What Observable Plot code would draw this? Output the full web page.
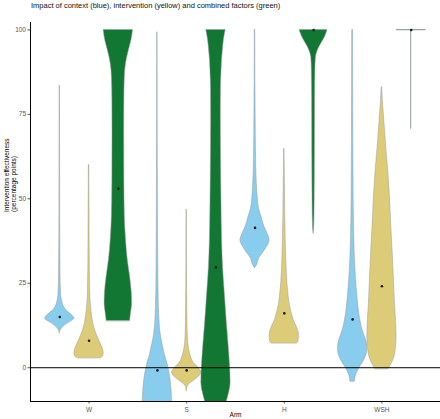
<!DOCTYPE html>
<html>
<head>
<meta charset="utf-8">
<script src="https://cdn.jsdelivr.net/npm/d3@7"></script>
<script src="https://cdn.jsdelivr.net/npm/@observablehq/plot@0.6"></script>
<style>
  html, body { margin: 0; padding: 0; background: white; }
  #wrap { position: relative; width: 440px; height: 419px; }
  #title { position: absolute; left: 31px; top: 0px; font: 7.5px "Liberation Sans", Arial, sans-serif; color: #111; white-space: nowrap; line-height: 11px; }
</style>
</head>
<body>
<div id="wrap"><div id="title">Impact of context (blue), intervention (yellow) and combined factors (green)</div></div>
<script>
// Categories
const arms = ["W", "S", "H", "WSH"];
const factors = ["context", "intervention", "combined"];
const factorColors = ["#88CCEE", "#DDCC77", "#117733"];
const yTicks = [0, 25, 50, 75, 100];

// Medians (percentage points), by arm W, S, H, WSH
const medianContext = [15.0, -0.8, 41.4, 14.3];
const medianIntervention = [8.0, -0.8, 16.1, 24.1];
const medianCombined = [53.0, 29.7, 100, 100];

// Violin profiles: [value, relative density width]
const profileWContext = [[10.2,0],[10.8,0.04],[11.5,0.12],[12.5,0.35],[13.5,0.7],[14.5,1.0],[15.5,0.85],[17,0.45],[19,0.2],[22,0.09],[28,0.05],[40,0.03],[60,0.02],[83.5,0.012]];
const profileWIntervention = [[2.8,0.8],[3.3,0.95],[4.2,1.0],[5.2,0.97],[7,0.8],[9.5,0.55],[12,0.35],[14,0.25],[17,0.16],[20,0.1],[24,0.07],[30,0.05],[45,0.03],[60,0.015]];
const profileWCombined = [[13.8,0.8],[16,0.86],[19,0.94],[22,0.92],[27,0.8],[32,0.64],[38,0.52],[45,0.44],[55,0.41],[70,0.4],[80,0.41],[86,0.44],[90,0.52],[94,0.72],[97,0.9],[100,1.0]];
const profileSContext = [[-20,0],[-17,0.6],[-13,0.95],[-10,1.0],[-7,0.97],[-3,0.88],[1,0.7],[4,0.5],[7,0.35],[10,0.22],[14,0.14],[18,0.1],[24,0.07],[35,0.05],[50,0.035],[75,0.02],[99.3,0.012]];
const profileSIntervention = [[-7,0],[-6,0.03],[-5,0.15],[-4,0.45],[-3,0.75],[-1.5,1.0],[0,0.8],[1.3,0.5],[2.5,0.35],[4.2,0.23],[6,0.14],[9,0.08],[14,0.05],[20,0.035],[30,0.02],[46.8,0.012]];
const profileSCombined = [[-20,0],[-17,0.2],[-14,0.5],[-10,0.74],[-7,0.92],[-4.5,1.0],[-1,0.98],[4,0.91],[9,0.82],[14,0.73],[19,0.65],[24,0.57],[30,0.48],[37,0.42],[44,0.39],[55,0.36],[65,0.34],[75,0.33],[83,0.34],[88,0.38],[91,0.41],[94,0.47],[97,0.54],[100,0.66]];
const profileHContext = [[29.5,0],[29.8,0.06],[30.5,0.15],[32.3,0.28],[34.8,0.68],[37.7,1.0],[39.7,0.85],[42,0.62],[44.6,0.45],[47,0.28],[50.5,0.18],[55,0.12],[58.4,0.09],[65,0.06],[73.2,0.045],[85,0.025],[100,0.015]];
const profileHIntervention = [[7.2,0.88],[7.7,0.97],[9.7,1.0],[12.1,0.85],[14,0.65],[16.1,0.51],[18.5,0.38],[21,0.3],[25,0.21],[28.9,0.16],[35,0.11],[43.6,0.07],[55,0.04],[64.8,0.015]];
const profileHCombined = [[39.7,0],[41.7,0.04],[48.6,0.07],[63.4,0.09],[80,0.1],[88,0.12],[91.9,0.16],[93.5,0.25],[94.9,0.39],[96.5,0.6],[97.8,0.77],[99,0.88],[100,0.95]];
const profileWSHContext = [[-4.1,0.15],[-2.2,0.23],[-0.2,0.45],[2.3,0.8],[5.2,1.0],[7.2,0.97],[9,0.85],[11.1,0.68],[13.5,0.55],[16.1,0.45],[20,0.35],[24,0.27],[30,0.18],[38.7,0.11],[50,0.07],[70,0.045],[100,0.03]];
const profileWSHIntervention = [[-0.4,0.45],[1.3,0.68],[4.3,0.91],[9.2,1.0],[14,0.96],[19,0.89],[26,0.82],[33.8,0.74],[41,0.65],[48.6,0.57],[54,0.5],[58.4,0.43],[65,0.3],[73.2,0.16],[78,0.08],[83,0.02]];
const profileWSHCombined = [[70.7,0],[71,0.01],[99.8,0.01],[99.85,1.0],[100,1.0]];

const profiles = [
  [profileWContext, profileWIntervention, profileWCombined],
  [profileSContext, profileSIntervention, profileSCombined],
  [profileHContext, profileHIntervention, profileHCombined],
  [profileWSHContext, profileWSHIntervention, profileWSHCombined]
];
const medians = [medianContext, medianIntervention, medianCombined];

const dodge = 0.3;      // dodge step between factors within an arm
const halfWidth = 0.15; // max half width of a violin (x units)

const violinRows = [];
profiles.forEach((byFactor, i) => byFactor.forEach((prof, j) => {
  prof.forEach(([v, w]) => violinRows.push({
    key: arms[i] + "-" + factors[j], pos: i + 1 + (j - 1) * dodge, factor: factors[j], v, w
  }));
}));
const medianRows = [];
arms.forEach((a, i) => factors.forEach((f, j) => medianRows.push({pos: i + 1 + (j - 1) * dodge, v: medians[j][i]})));

const xDomain = [0.4, 4.6];
const yDomain = [-10, 102.2];

const chart = Plot.plot({
  width: 440,
  height: 419,
  marginLeft: 30,
  marginRight: 0,
  marginTop: 22,
  marginBottom: 18,
  style: {fontSize: "6.5px", fontFamily: "Liberation Sans, Arial, sans-serif", color: "#555", background: "transparent"},
  x: {type: "linear", domain: xDomain, ticks: [1, 2, 3, 4], tickFormat: d => arms[d - 1], tickSize: 2.5, tickPadding: 3, label: null},
  y: {domain: yDomain, ticks: yTicks, tickSize: 2.5, tickPadding: 2, label: null},
  color: {domain: factors, range: factorColors},
  marks: [
    Plot.areaX(violinRows, {
      z: "key", y: "v",
      x1: d => d.pos - d.w * halfWidth,
      x2: d => d.pos + d.w * halfWidth,
      fill: "factor", stroke: "#9a9a9a", strokeWidth: 0.5,
      curve: "monotone-y", clip: true
    }),
    Plot.ruleY([0], {stroke: "black", strokeWidth: 1}),
    Plot.dot(medianRows, {x: "pos", y: "v", r: 1.3, fill: "#1a1a1a", stroke: "none"}),
    Plot.ruleX([xDomain[0]], {stroke: "black", strokeWidth: 1}),
    Plot.ruleY([yDomain[0]], {stroke: "black", strokeWidth: 1}),
    Plot.text(["Arm"], {frameAnchor: "bottom", dy: 15.5, fill: "black", fontSize: 6.5}),
    Plot.text(["Intervention effectiveness\n(percentage points)"], {frameAnchor: "left", rotate: -90, dx: -20.5, fill: "black", fontSize: 6.5, lineHeight: 1.1})
  ]
});
document.getElementById("wrap").appendChild(chart);
chart.style.position = "absolute";
chart.style.left = "0px";
chart.style.top = "0px";
</script>
</body>
</html>
